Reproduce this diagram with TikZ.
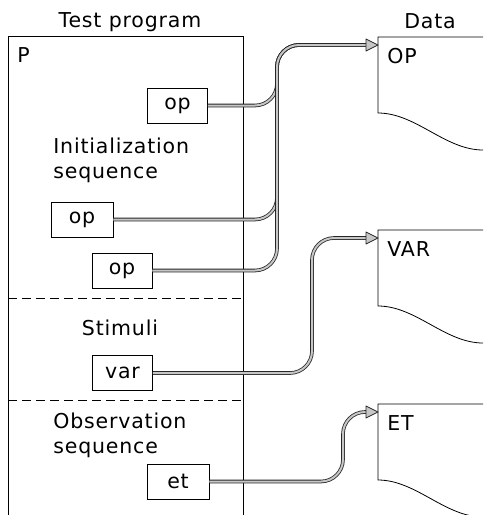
\documentclass[tikz,border=0pt]{standalone}
\usepackage{fontspec}
\setmainfont[LetterSpace=4]{DejaVu Sans}

\tikzset{
  lbl/.style={font=\fontsize{20.5}{25}\selectfont, inner sep=0pt},
  cell/.style={draw, line width=0.8pt, minimum width=60pt, minimum height=35pt,
    inner sep=0pt, font=\fontsize{20.5}{25}\selectfont},
  bus/.style={draw=black!85, line width=0.8pt, double=gray!45,
    double distance=2pt, rounded corners=22pt, shorten >=11pt},
  head/.style={draw=black!85, fill=gray!45, line width=0.8pt, line join=round},
  sep/.style={dash pattern=on 9pt off 5pt},
}

\begin{document}
\begin{tikzpicture}[x=1pt, y=-1pt, line width=0.8pt]
\useasboundingbox (0,0) rectangle (483,515);

\node[lbl, anchor=base] (title) at (130,27) {Test program};
\node[lbl, anchor=base] (datatitle) at (430,28) {Data};

\draw (8,515) -- (8,36) -- (243,36) -- (243,515);
\draw[sep] (8,298) -- (243,298);
\draw[sep] (8,400) -- (243,400);

\node[lbl, anchor=north west] (p) at (17,47) {P};
\node[lbl, anchor=north west, align=left] (init) at (53,138) {Initialization\\sequence};
\node[lbl] (stim) at (120,328) {Stimuli};
\node[lbl, anchor=north west, align=left] (obs) at (53,413) {Observation\\sequence};

\node[cell] (op1) at (177.5,105.5) {op};
\node[cell, minimum width=62pt] (op2) at (82,219.5) {op};
\node[cell] (op3) at (122,270.5) {op};
\node[cell] (var) at (122.5,373) {var};
\node[cell, minimum width=62pt] (et) at (178,481.5) {et};

\foreach \t/\n in {37/OP, 230/VAR, 404/ET} {
  \draw (483,\t) -- (378,\t) -- (378,\t+76)
    .. controls (416,\t+76) and (445,\t+113) .. (483,\t+113);
  \node[lbl, anchor=north west] (l\n) at (387,\t+11) {\n};
  \coordinate (d\n) at (378,\t+8);
}

\coordinate (bustop) at (277,45);
\coordinate (vbend) at (312,238);
\coordinate (ebend) at (343,412);

\draw[bus] (op1.east) -| (bustop) -- (dOP);
\draw[bus] (op2.east) -| (bustop) -- (dOP);
\draw[bus] (op3.east) -| (bustop) -- (dOP);
\draw[bus] (var.east) -| (vbend) -- (dVAR);
\draw[bus] (et.east) -| (ebend) -- (dET);

\foreach \n in {OP, VAR, ET}
  \draw[head] (d\n) -- ++(-12,-6) -- ++(0,12) -- cycle;
\end{tikzpicture}
\end{document}
